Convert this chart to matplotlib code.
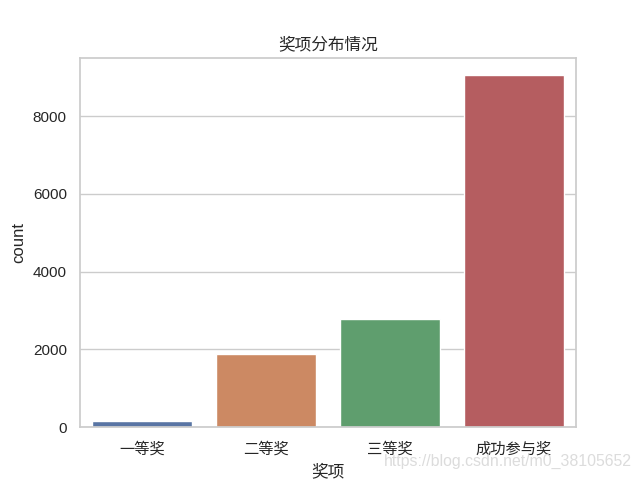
import matplotlib
matplotlib.use("Agg")
import matplotlib.pyplot as plt
import seaborn as sns
import pandas as pd

# 奖项 counts
awards = ["一等奖", "二等奖", "三等奖", "成功参与奖"]
counts = [150, 1880, 2770, 9050]
yticks = [0, 2000, 4000, 6000, 8000]

sns.set_theme(style="whitegrid")
plt.rcParams['font.family'] = ['Noto Sans CJK SC', 'DejaVu Sans']
plt.rcParams['axes.unicode_minus'] = False

df = pd.DataFrame({"奖项": awards, "count": counts})

fig = plt.figure(figsize=(6.4, 4.8), dpi=100)
ax = sns.barplot(data=df, x="奖项", y="count", hue="奖项", palette="deep", legend=False)
ax.set_title("奖项分布情况")
ax.set_yticks(yticks)
for lbl in ax.get_yticklabels():
    lbl.set_family(["Liberation Sans"])
ax.set_ylabel("count", family=["Liberation Sans"], labelpad=5)

# csdn watermark
fig.text(0.988, 0.03, "https://blog.csdn.net/m0_38105652", ha="right", va="baseline",
         fontsize=11.4, color="#dcdcdc", family=["Liberation Sans"])

fig.savefig("out.png", dpi=100)
